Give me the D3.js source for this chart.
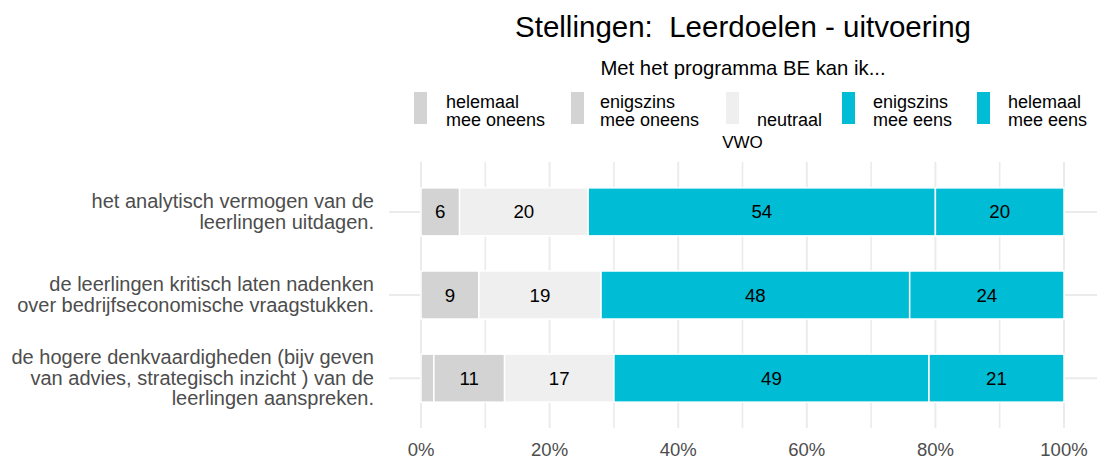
<!DOCTYPE html>
<html>
<head>
<meta charset="utf-8">
<script src="https://cdn.jsdelivr.net/npm/d3@7"></script>
<style>
  html, body { margin: 0; padding: 0; background: #fff; }
  svg { display: block; font-family: "Liberation Sans", Arial, sans-serif; }
  text { white-space: pre; }
</style>
</head>
<body>
<svg id="chart" width="1097" height="459"></svg>
<script>
// ---- data ----
const categories = [
  "het analytisch vermogen van de\nleerlingen uitdagen.",
  "de leerlingen kritisch laten nadenken\nover bedrijfseconomische vraagstukken.",
  "de hogere denkvaardigheden (bijv geven\nvan advies, strategisch inzicht ) van de\nleerlingen aanspreken."
];
const levels = ["helemaal\nmee oneens", "enigszins\nmee oneens", "neutraal", "enigszins\nmee eens", "helemaal\nmee eens"];
const helemaalOneens = [0, 0, 2];
const enigszinsOneens = [6, 9, 11];
const neutraal = [20, 19, 17];
const enigszinsEens = [54, 48, 49];
const helemaalEens = [20, 24, 21];
const xTicks = [0, 20, 40, 60, 80, 100];
const xMinorTicks = [10, 30, 50, 70, 90];
const title = "Stellingen:  Leerdoelen - uitvoering";
const subtitle = "Met het programma BE kan ik...";
const legendTitle = "VWO";

// ---- style ----
const colors = ["#d3d3d3", "#d3d3d3", "#efefef", "#00bcd4", "#00bcd4"];
const gridColor = "#ebebeb";
const axisTextColor = "#4d4d4d";

const svg = d3.select("#chart");
const panel = { left: 389, right: 1097, top: 162, bottom: 428 };

const x = d3.scaleLinear().domain([0, 100]).range([421, 1064]);
const y = d3.scalePoint().domain(categories).range([panel.top, panel.bottom]).padding(0.6);
const barH = 48;

// grid
const grid = svg.append("g");
grid.selectAll("line.minor").data(xMinorTicks).join("line")
  .attr("x1", d => x(d)).attr("x2", d => x(d))
  .attr("y1", panel.top).attr("y2", panel.bottom)
  .attr("stroke", gridColor).attr("stroke-width", 1.6);
grid.selectAll("line.majorx").data(xTicks).join("line")
  .attr("x1", d => x(d)).attr("x2", d => x(d))
  .attr("y1", panel.top).attr("y2", panel.bottom)
  .attr("stroke", gridColor).attr("stroke-width", 2);
grid.selectAll("line.majory").data(categories).join("line")
  .attr("x1", panel.left).attr("x2", panel.right)
  .attr("y1", d => y(d)).attr("y2", d => y(d))
  .attr("stroke", gridColor).attr("stroke-width", 2);

// stacked data
const series = [helemaalOneens, enigszinsOneens, neutraal, enigszinsEens, helemaalEens];
const rows = categories.map((c, i) => {
  const o = { cat: c };
  levels.forEach((l, j) => o[l] = series[j][i]);
  return o;
});
const stacked = d3.stack().keys(levels)(rows);

const bars = svg.append("g");
stacked.forEach((s, j) => {
  const g = bars.append("g");
  g.selectAll("rect").data(s.filter(d => d[1] - d[0] > 0)).join("rect")
    .attr("x", d => x(d[0]))
    .attr("width", d => x(d[1]) - x(d[0]))
    .attr("y", d => y(d.data.cat) - barH / 2)
    .attr("height", barH)
    .attr("fill", colors[j])
    .attr("stroke", "#fff").attr("stroke-width", 1.5);
  g.selectAll("text").data(s.filter(d => d[1] - d[0] >= 3)).join("text")
    .attr("x", d => x((d[0] + d[1]) / 2))
    .attr("y", d => y(d.data.cat) + 6.5)
    .attr("text-anchor", "middle")
    .attr("font-size", 18.7)
    .attr("fill", "#000")
    .text(d => d3.format("d")(d[1] - d[0]));
});

// x axis labels
svg.append("g").selectAll("text").data(xTicks).join("text")
  .attr("x", d => x(d)).attr("y", 455.5)
  .attr("text-anchor", "middle").attr("font-size", 18.5)
  .attr("fill", axisTextColor)
  .text(d => d + "%");

// y axis labels
const lh = 20.5;
svg.append("g").selectAll("text").data(categories).join("text")
  .attr("text-anchor", "end").attr("font-size", 20)
  .attr("fill", axisTextColor)
  .each(function(d) {
    const lines = d.split("\n");
    const t = d3.select(this);
    const y0 = y(d) + 6.5 - (lines.length - 1) * lh / 2;
    lines.forEach((ln, k) => {
      t.append("tspan").attr("x", 374).attr("y", y0 + k * lh).text(ln);
    });
  });

// title & subtitle
const cx = (panel.left + panel.right) / 2;
svg.append("text").attr("x", cx).attr("y", 37).attr("text-anchor", "middle")
  .attr("font-size", 29.5).attr("fill", "#000").text(title);
svg.append("text").attr("x", cx).attr("y", 75).attr("text-anchor", "middle")
  .attr("font-size", 20.3).attr("fill", "#000").text(subtitle);

// legend
const legendKeyX = [414, 571, 726, 842, 977];
const legendTextX = [446, 600, 757, 873, 1008];
const lg = svg.append("g");
levels.forEach((l, j) => {
  lg.append("rect").attr("x", legendKeyX[j]).attr("y", 92).attr("width", 13).attr("height", 32)
    .attr("fill", colors[j]);
  const lines = l.split("\n");
  const t = lg.append("text").attr("font-size", 18).attr("fill", "#000");
  lines.forEach((ln, k) => {
    t.append("tspan").attr("x", legendTextX[j])
      .attr("y", 126 - (lines.length - 1 - k) * 18).text(ln);
  });
});
lg.append("text").attr("x", 742.5).attr("y", 148).attr("text-anchor", "middle")
  .attr("font-size", 17).attr("fill", "#000").text(legendTitle);
</script>
</body>
</html>
